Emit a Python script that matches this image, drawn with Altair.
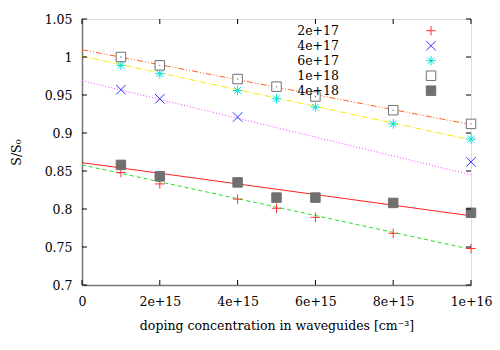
import altair as alt
import pandas as pd

# ---- data ----
series_names = ["2e+17", "4e+17", "6e+17", "1e+18", "4e+18"]
x_doping = [1e15, 2e15, 4e15, 5e15, 6e15, 8e15, 1e16]
x_4e17 = [1e15, 2e15, 4e15, 1e16]
s_2e17 = [0.848, 0.833, 0.813, 0.801, 0.789, 0.768, 0.748]
s_4e17 = [0.957, 0.945, 0.921, 0.862]
s_6e17 = [0.989, 0.978, 0.956, 0.945, 0.934, 0.912, 0.892]
s_1e18 = [1.000, 0.989, 0.971, 0.961, 0.948, 0.930, 0.912]
s_4e18 = [0.858, 0.843, 0.835, 0.815, 0.815, 0.808, 0.795]

fit_x = [0, 1e16]
fit_2e17 = [0.858, 0.747]
fit_4e17 = [0.969, 0.845]
fit_6e17 = [1.001, 0.891]
fit_1e18 = [1.0096, 0.911]
fit_4e18 = [0.861, 0.791]

x_ticks = [0, 2e15, 4e15, 6e15, 8e15, 1e16]
y_ticks = [0.7, 0.75, 0.8, 0.85, 0.9, 0.95, 1.0, 1.05]

# ---- tables ----
rows = []
for name, xs, ys in [("2e+17", x_doping, s_2e17), ("4e+17", x_4e17, s_4e17),
                     ("6e+17", x_doping, s_6e17), ("1e+18", x_doping, s_1e18),
                     ("4e+18", x_doping, s_4e18)]:
    for xv, yv in zip(xs, ys):
        rows.append({"series": name, "x": xv, "y": yv})
pts = pd.DataFrame(rows)

W, H = 389, 266
FONT = "DejaVu Serif"
FS = 12.5
xscale = alt.Scale(domain=[0, 1e16], nice=False, zero=False)
yscale = alt.Scale(domain=[0.7, 1.05], nice=False, zero=False)

shape_range = [
    "M-1,0L1,0M0,-1L0,1",
    "M-1,-1L1,1M-1,1L1,-1",
    "M-1,0L1,0M0,-1L0,1M-0.7,-0.7L0.7,0.7M-0.7,0.7L0.7,-0.7",
    "square",
    "square",
]
stroke_range = ["#ff3030", "#3030ff", "#00e0e0", "#707070", "#707070"]
fill_range = ["transparent", "transparent", "transparent", "white", "#707070"]

shape_enc = alt.Shape("series:N", scale=alt.Scale(domain=series_names, range=shape_range), legend=None)
stroke_enc = alt.Stroke("series:N", scale=alt.Scale(domain=series_names, range=stroke_range), legend=None)
fill_enc = alt.Fill("series:N", scale=alt.Scale(domain=series_names, range=fill_range), legend=None)

points = alt.Chart(pts).mark_point(opacity=1, fillOpacity=1, strokeWidth=1, size=90).encode(
    x=alt.X("x:Q", scale=xscale, axis=alt.Axis(
        values=x_ticks, tickSize=0, grid=False,
        labelExpr="datum.value == 0 ? '0' : format(datum.value, '.0e')",
        labelFont=FONT, labelFontSize=FS, labelColor="black", labelPadding=10,
        labelOverlap=False, labelFlush=False,
        domainColor="#777777", domainWidth=1.5,
        title="doping concentration in waveguides [cm\u207b\u00b3]",
        titleFont=FONT, titleFontSize=FS, titleFontWeight="normal", titleColor="black",
        titleX=W / 2, titleY=40, titleBaseline="middle", titleAlign="center")),
    y=alt.Y("y:Q", scale=yscale, axis=alt.Axis(
        values=y_ticks, tickSize=0, grid=False,
        labelExpr="format(datum.value, '.2~f')",
        labelFont=FONT, labelFontSize=FS, labelColor="black", labelPadding=10,
        labelOverlap=False, labelFlush=False,
        domainColor="#777777", domainWidth=1.5,
        title="S/S\u2080",
        titleFont=FONT, titleFontSize=FS, titleFontWeight="normal", titleColor="black",
        titleX=-66, titleY=H / 2, titleAngle=-90, titleBaseline="middle", titleAlign="center")),
    shape=shape_enc, stroke=stroke_enc, fill=fill_enc,
)

dots = alt.Chart(pts[pts.series == "1e+18"]).mark_point(
    filled=True, size=2, color="#707070", opacity=1).encode(
    x=alt.X("x:Q", scale=xscale, axis=None),
    y=alt.Y("y:Q", scale=yscale, axis=None),
)


def fit_layer(vals, color, dash):
    df = pd.DataFrame({"x": fit_x, "y": vals})
    kw = dict(color=color, strokeWidth=1)
    if dash:
        kw["strokeDash"] = dash
    return alt.Chart(df).mark_line(**kw).encode(
        x=alt.X("x:Q", scale=xscale, axis=None),
        y=alt.Y("y:Q", scale=yscale, axis=None),
    )


lines = [
    fit_layer(fit_4e18, "#ff2020", None),
    fit_layer(fit_2e17, "#20e020", [4, 3]),
    fit_layer(fit_4e17, "#ff40ff", [1, 2]),
    fit_layer(fit_6e17, "#f5e800", [6, 2, 1, 2]),
    fit_layer(fit_1e18, "#ff6020", [6, 2, 1, 2, 1, 2]),
]

# inward ticks (gnuplot style) on all four sides
xt = pd.DataFrame({"v": x_ticks})
yt = pd.DataFrame({"v": y_ticks})
tick_x = alt.X("v:Q", scale=xscale, axis=None)
tick_y = alt.Y("v:Q", scale=yscale, axis=None)
ticks = [
    alt.Chart(xt).mark_rule(color="black", strokeWidth=1).encode(x=tick_x, y=alt.value(H), y2=alt.value(H - 5)),
    alt.Chart(xt).mark_rule(color="black", strokeWidth=1).encode(x=tick_x, y=alt.value(0), y2=alt.value(5)),
    alt.Chart(yt).mark_rule(color="black", strokeWidth=1).encode(y=tick_y, x=alt.value(0), x2=alt.value(5)),
    alt.Chart(yt).mark_rule(color="black", strokeWidth=1).encode(y=tick_y, x=alt.value(W), x2=alt.value(W - 5)),
]

# key in the top-right corner, labels left of symbols
leg = pd.DataFrame({"series": series_names, "idx": list(range(len(series_names)))})
leg_y = alt.Y("idx:O", scale=alt.Scale(type="point", range=[11.7, 71.7], padding=0), axis=None)
leg_text = alt.Chart(leg).mark_text(align="right", baseline="middle", font=FONT, fontSize=FS,
                                    color="black").encode(x=alt.value(257), y=leg_y, text="series:N")
leg_sym = alt.Chart(leg).mark_point(opacity=1, fillOpacity=1, strokeWidth=1, size=90).encode(
    x=alt.value(349), y=leg_y, shape=shape_enc, stroke=stroke_enc, fill=fill_enc)
leg_dot = alt.Chart(leg[leg.series == "1e+18"]).mark_point(
    filled=True, size=2, color="#707070", opacity=1).encode(x=alt.value(349), y=leg_y)

chart = alt.layer(*lines, points, dots, *ticks, leg_text, leg_sym, leg_dot).resolve_scale(
    x="independent", y="independent"
).properties(
    width=W, height=H,
    autosize=alt.AutoSizeParams(type="none"),
    padding={"left": 74, "top": 11, "right": 21, "bottom": 57},
).configure_view(stroke="black", strokeWidth=1).configure(background="white", font=FONT)

chart.save("out.html", embed_options={"renderer": "svg", "actions": False})
